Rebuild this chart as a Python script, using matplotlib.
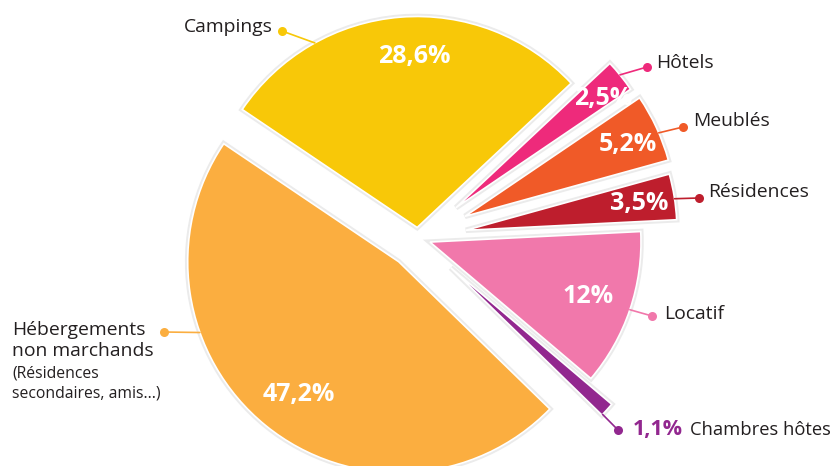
import numpy as np
import matplotlib
matplotlib.use("Agg")
import matplotlib.pyplot as plt
import matplotlib.patheffects as pe

# =========================
# Données
# =========================
categories = ["Campings", "Hôtels", "Meublés", "Résidences", "Locatif",
              "Chambres hôtes", "Hébergements non marchands"]
parts = [28.6, 2.5, 5.2, 3.5, 12.0, 1.1, 47.2]
pct_labels = ["28,6%", "2,5%", "5,2%", "3,5%", "12%", "1,1%", "47,2%"]
colors = ["#F8C808", "#EE2A7B", "#F05A28", "#BE1E2D", "#F178AB", "#92278F", "#FBAE40"]
explode = [0.05, 0.23, 0.245, 0.23, 0.06, 0.21, 0.145]

# =========================
# Mise en page (pixels -> données)
# =========================
W, H = 835, 466
CX, CY, R = 418, 238, 211


def px(x, y):
    return ((x - CX) / R, (CY - y) / R)


plt.rcParams["font.family"] = ["Open Sans", "DejaVu Sans"]
TXT = "#231f20"
FS = 13.9

fig = plt.figure(figsize=(W / 100, H / 100), dpi=100)
ax = fig.add_axes([0, 0, 1, 1])

wedges, _ = ax.pie(parts, colors=colors, explode=explode, startangle=146,
                   counterclock=False, radius=1,
                   wedgeprops=dict(edgecolor="white", linewidth=1.2))
for w in wedges:
    w.set_path_effects([pe.Stroke(linewidth=4, foreground="#ebebeb"), pe.Normal()])

ax.set_xlim(-CX / R, (W - CX) / R)
ax.set_ylim(-(H - CY) / R, CY / R)
ax.set_aspect("equal")
ax.axis("off")


def on_wedge(w, ang, frac):
    a = np.deg2rad(ang)
    cx, cy = w.center
    return cx + frac * w.r * np.cos(a), cy + frac * w.r * np.sin(a)


# pourcentages dans les parts (angle, fraction du rayon)
pct_pos = [(91, 0.81), (36.4, 0.87), (23.8, 0.845), (8.9, 0.83), (-19, 0.79), None, (233, 0.79)]
for w, lab, pos in zip(wedges, pct_labels, pct_pos):
    if pos is None:
        continue
    x, y = on_wedge(w, *pos)
    ax.text(x, y, lab, color="white", fontsize=18, fontweight="bold",
            ha="center", va="center")

# étiquettes avec point + trait
anchor_ang = [119, 39, 23.3, 8.6, -18.7, -44, 199.6]
dots = [(282, 31), (647, 67), (683, 127), (699, 198), (652, 316), (618, 430), (164, 332)]
for w, ang, d, c in zip(wedges, anchor_ang, dots, colors):
    ex, ey = on_wedge(w, ang, 1.0)
    dx, dy = px(*d)
    ax.plot([ex, dx], [ey, dy], color=c, lw=1.2, solid_capstyle="round")
    ax.plot(dx, dy, "o", color=c, ms=6.5, mec="none")

ax.text(*px(273, 27), "Campings", color=TXT, fontsize=FS, ha="right", va="center")
ax.text(*px(656, 63), "Hôtels", color=TXT, fontsize=FS, ha="left", va="center")
ax.text(*px(693, 121), "Meublés", color=TXT, fontsize=FS, ha="left", va="center")
ax.text(*px(708, 192), "Résidences", color=TXT, fontsize=FS, ha="left", va="center")
ax.text(*px(664, 314), "Locatif", color=TXT, fontsize=FS, ha="left", va="center")
ax.text(*px(633, 430), pct_labels[5], color=colors[5], fontsize=15.5, fontweight="bold",
        ha="left", va="center")
ax.text(*px(831, 430), "Chambres hôtes", color=TXT, fontsize=13.2, ha="right", va="center")
ax.text(*px(12, 330), "Hébergements", color=TXT, fontsize=FS, ha="left", va="center")
ax.text(*px(12, 351), "non marchands", color=TXT, fontsize=FS, ha="left", va="center")
ax.text(*px(12, 373), "(Résidences", color=TXT, fontsize=11.3, ha="left", va="center")
ax.text(*px(12, 394), "secondaires, amis...)", color=TXT, fontsize=11.3, ha="left", va="center")

fig.savefig("out.png", dpi=100, facecolor="white")
